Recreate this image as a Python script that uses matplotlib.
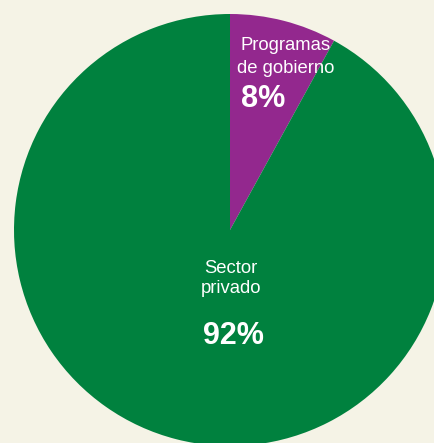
# share of funding: government programmes vs private sector
import matplotlib
matplotlib.use("Agg")
import matplotlib.pyplot as plt

labels = ["Programas de gobierno", "Sector privado"]
shares = [8, 92]
colors = ["#93288e", "#00813e"]
bg = "#f5f3e6"

plt.rcParams['font.family'] = ['Liberation Sans', 'DejaVu Sans']

fig = plt.figure(figsize=(4.35, 4.43), dpi=100, facecolor=bg)
# pie centre at (230, 230) px, radius 216 px
ax = fig.add_axes([14 / 435, (443 - 230 - 216) / 443, 432 / 435, 432 / 443])
ax.set_facecolor(bg)

ax.pie(shares, colors=colors, startangle=90, counterclock=False, radius=1,
       wedgeprops=dict(linewidth=0))
ax.set_xlim(-1, 1)
ax.set_ylim(-1, 1)
ax.set_aspect('auto')
ax.axis('off')

small = dict(color="white", fontsize=13.3, ha="center", va="baseline")
big = dict(color="white", fontsize=22, fontweight="bold", ha="center", va="baseline")

ax.text(0.259, 0.833, "Programas", **small)
ax.text(0.259, 0.728, "de gobierno", **small)
ax.text(0.153, 0.569, f"{shares[0]}%", **big)

ax.text(0.002, -0.199, "Sector", **small)
ax.text(0.005, -0.292, "privado", **small)
ax.text(0.016, -0.528, f"{shares[1]}%", **big)

fig.savefig("out.png", dpi=100, facecolor=bg)
